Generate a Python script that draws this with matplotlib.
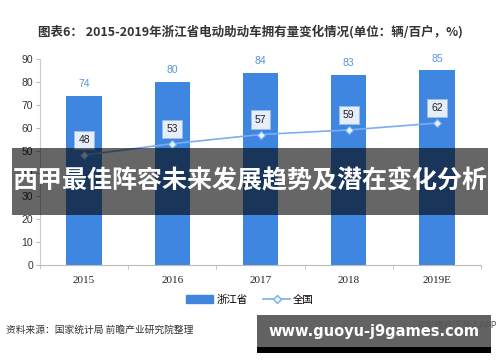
import matplotlib.pyplot as plt
import matplotlib.patches as mpatches
from matplotlib.lines import Line2D
import numpy as np

plt.rcParams['font.family'] = ['Noto Sans CJK SC', 'DejaVu Sans']

years = ["2015", "2016", "2017", "2018", "2019E"]
zhejiang = [74, 80, 84, 83, 85]
national = [48, 53, 57, 59, 62]
yticks = [0, 10, 20, 30, 40, 50, 60, 70, 80, 90]

bar_color = "#3f86e0"
line_color = "#7aaef0"

fig = plt.figure(figsize=(5, 3.62), dpi=100)
ax = fig.add_axes([0.08, 0.268, 0.882, 0.569])

x = np.arange(len(years))
ax.bar(x, zhejiang, width=0.4, color=bar_color, zorder=2)
ax.plot(x, national, color=line_color, lw=1.2, marker="D", ms=4,
        mfc="#eaf2fd", mec=line_color, mew=0.8, zorder=3)

for xi, v in zip(x, zhejiang):
    ax.text(xi, v + 3, str(v), ha="center", va="bottom", fontsize=7.5,
            color="#5b95de", family="Liberation Sans")
for xi, v in zip(x, national):
    ax.text(xi, v + 6.5, str(v), ha="center", va="center", fontsize=7.5,
            color="#222222", family="Liberation Sans", zorder=4,
            bbox=dict(boxstyle="square,pad=0.4", fc="#e6eefb", ec="#9dbde6", lw=0.6))

ax.set_xlim(-0.5, len(years) - 0.5)
ax.set_ylim(0, 90)
ax.set_yticks(yticks)
ax.set_yticklabels([str(t) for t in yticks], fontsize=7.5, color="#333333",
                   family="Liberation Sans")
ax.set_xticks(x)
ax.set_xticklabels(years, fontsize=8, color="#222222", family="Liberation Serif")
ax.tick_params(axis="x", length=0, pad=8)
ax.set_xticks(np.arange(-0.5, len(years)), minor=True)
ax.tick_params(axis="x", which="minor", length=3, color="#bbbbbb", direction="out")
ax.tick_params(axis="y", length=3, color="#bbbbbb", pad=2)
for s in ["top", "right"]:
    ax.spines[s].set_visible(False)
ax.spines["left"].set_color("#cccccc")
ax.spines["bottom"].set_color("#bbbbbb")

fig.text(0.5, 0.913, "图表6： 2015-2019年浙江省电动助动车拥有量变化情况(单位：辆/百户，%)",
         ha="center", va="center", fontsize=9, weight="bold", color="#333333")

handles = [mpatches.Patch(color=bar_color),
           Line2D([0], [0], color=line_color, lw=1.2, marker="D", ms=4,
                  mfc="#eaf2fd", mec=line_color)]
fig.legend(handles, ["浙江省", "全国"], loc="center", bbox_to_anchor=(0.5, 0.172),
           ncol=2, frameon=False, fontsize=7.5, handlelength=2.6, columnspacing=1.5,
           handletextpad=0.3)

fig.text(0.012, 0.088, "资料来源：国家统计局 前瞻产业研究院整理", fontsize=7,
         color="#333333", va="center")

# overlay banner
fig.patches.append(mpatches.Rectangle((0.024, 0.406), 0.952, 0.185,
                                      transform=fig.transFigure, fc="#000000",
                                      alpha=0.6, zorder=10))
fig.text(0.5, 0.499, "西甲最佳阵容未来发展趋势及潜在变化分析", ha="center", va="center",
         fontsize=18, weight="bold", color="white", zorder=11)

# bottom-right box
fig.text(0.995, 0.1, "@前瞻经济学人APP", ha="right", va="center", fontsize=6.5,
         color="#555555", zorder=9)
fig.patches.append(mpatches.Rectangle((0.514, 0.03), 0.468, 0.1,
                                      transform=fig.transFigure, fc="#555555",
                                      alpha=0.92, zorder=10))
fig.patches.append(mpatches.Rectangle((0.514, 0.025), 0.468, 0.017,
                                      transform=fig.transFigure, fc="#000000",
                                      zorder=10))
fig.text(0.748, 0.085, "www.guoyu-j9games.com", ha="center", va="center",
         fontsize=10.5, weight="bold", color="white", zorder=11, family="DejaVu Sans")

fig.savefig("out.png", dpi=100, facecolor="white")
